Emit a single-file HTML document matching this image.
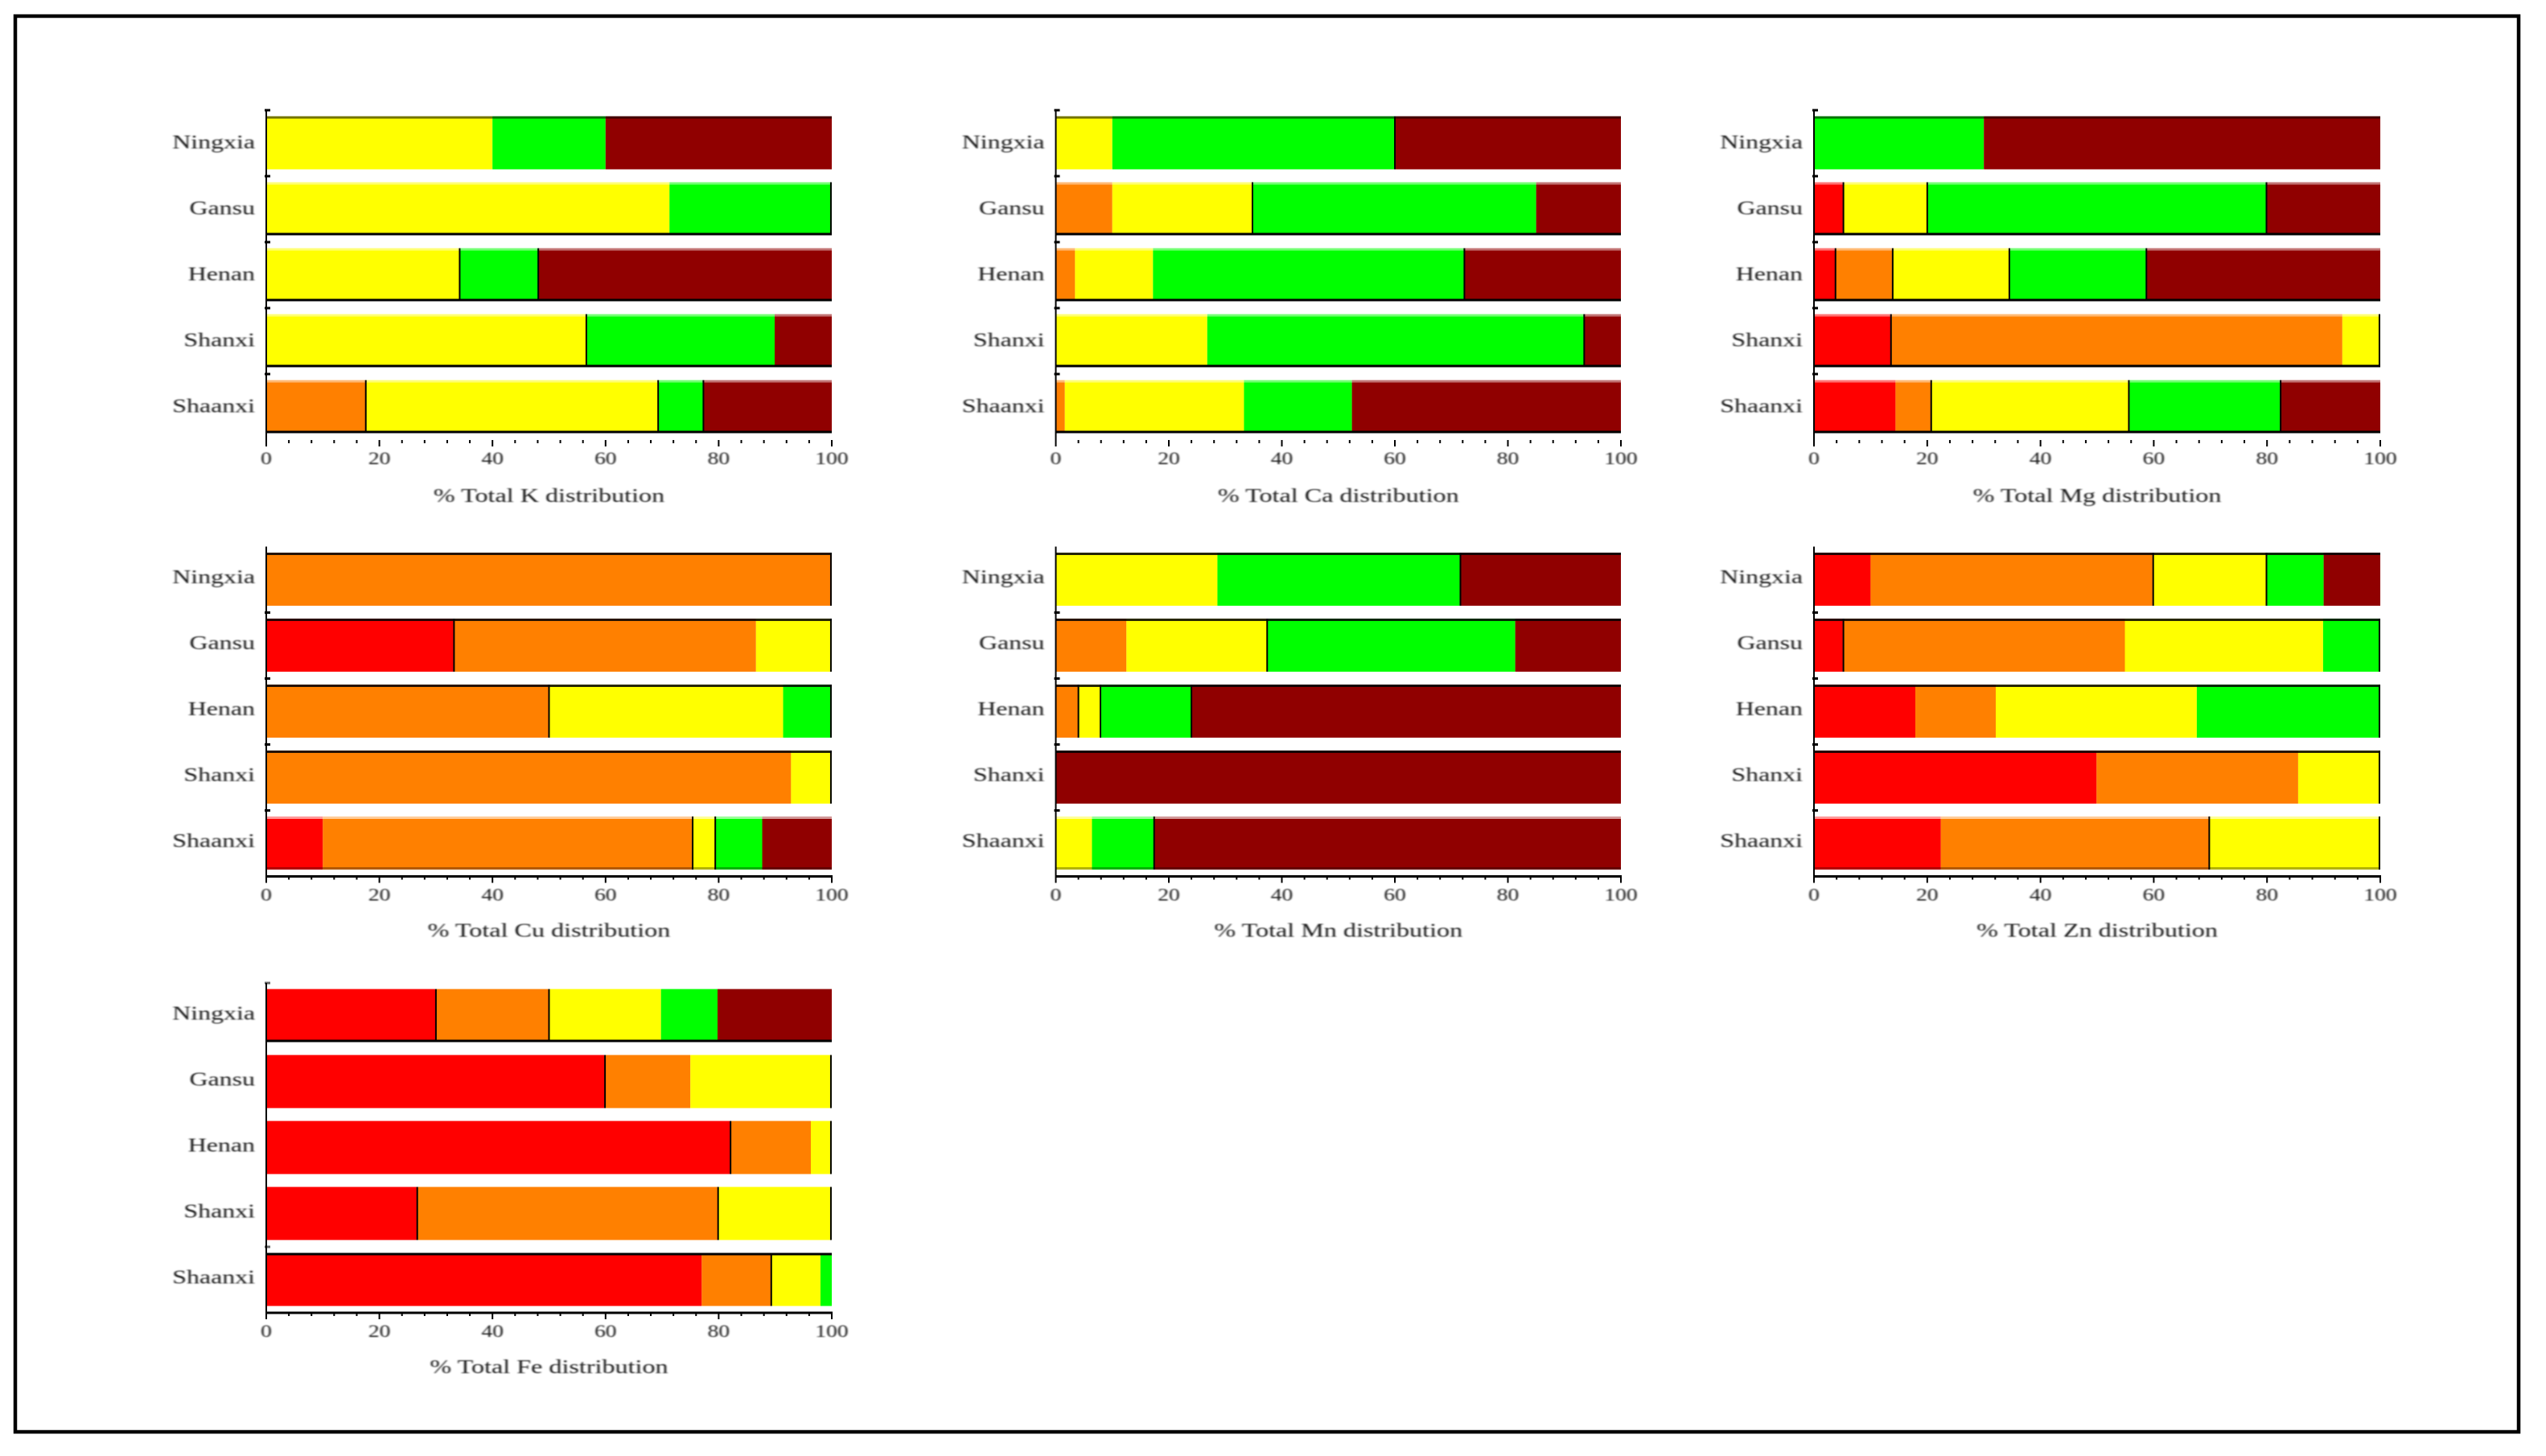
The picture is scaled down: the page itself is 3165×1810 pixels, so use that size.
<!DOCTYPE html>
<html lang="en">
<head>
<meta charset="utf-8">
<title>Total nutrient distribution by province</title>
<style>
  html, body { margin: 0; padding: 0; background: #fff; }
  body { width: 3165px; height: 1810px; overflow: hidden; }
  svg { display: block; }
  text { font-family: "Liberation Serif", serif; fill: #1a1a1a; }
</style>
</head>
<body>
<svg id="figure" xmlns="http://www.w3.org/2000/svg" width="3165" height="1810" viewBox="0 0 3165 1810">
  <defs>
    <filter id="soften" x="-5%" y="-20%" width="110%" height="140%"><feGaussianBlur stdDeviation="0.85"/></filter>
  </defs>
  <rect x="0" y="0" width="3165" height="1810" fill="#ffffff"/>
  <rect x="19" y="20" width="3112" height="1760" fill="none" stroke="#000000" stroke-width="4.5"/>
</svg>
<script>
// Categories and series
const regions = ["Ningxia", "Gansu", "Henan", "Shanxi", "Shaanxi"];
const classNames = ["very-low", "low", "medium", "high", "very-high"];
const xTickLabels = [0, 20, 40, 60, 80, 100];
const xMinorTicks = [4, 8, 12, 16, 24, 28, 32, 36, 44, 48, 52, 56, 64, 68, 72, 76, 84, 88, 92, 96];

// Percent share per class (red, orange, yellow, green, brown), one row per region
const totalK = [
  [0, 0, 40, 20, 40],
  [0, 0, 71.3, 28.7, 0],
  [0, 0, 34.2, 13.9, 51.9],
  [0, 0, 56.6, 33.3, 10.1],
  [0, 17.6, 51.7, 8, 22.7]
];
const totalCa = [
  [0, 0, 10, 50, 40],
  [0, 10, 24.8, 50.2, 15],
  [0, 3.4, 13.8, 55.1, 27.7],
  [0, 0, 26.8, 66.7, 6.5],
  [0, 1.6, 31.7, 19.1, 47.6]
];
const totalMg = [
  [0, 0, 0, 30, 70],
  [5.2, 0, 14.8, 59.9, 20.1],
  [3.8, 10.1, 20.6, 24.2, 41.3],
  [13.6, 79.7, 6.7, 0, 0],
  [14.4, 6.3, 34.9, 26.8, 17.6]
];
const totalCu = [
  [0, 100, 0, 0, 0],
  [33.2, 53.4, 13.4, 0, 0],
  [0, 50, 41.4, 8.6, 0],
  [0, 92.8, 7.2, 0, 0],
  [10, 65.4, 4, 8.3, 12.3]
];
const totalMn = [
  [0, 0, 28.6, 43, 28.4],
  [0, 12.5, 24.9, 43.9, 18.7],
  [0, 4, 3.9, 16.1, 76],
  [0, 0, 0, 0, 100],
  [0, 0, 6.4, 11, 82.6]
];
const totalZn = [
  [10, 49.9, 20, 10.1, 10],
  [5.2, 49.7, 35, 10.1, 0],
  [17.9, 14.2, 35.5, 32.4, 0],
  [49.9, 35.6, 14.5, 0, 0],
  [22.4, 47.4, 30.2, 0, 0]
];
const totalFe = [
  [30, 20, 19.8, 10, 20.2],
  [59.9, 15.1, 25, 0, 0],
  [82.1, 14.2, 3.7, 0, 0],
  [26.7, 53.2, 20.1, 0, 0],
  [77, 12.3, 8.7, 2, 0]
];

// Presentation only: which class in a row has a black line on its right edge
const dividersK = [[], [3], [2, 3], [2], [1, 2, 3]];
const dividersCa = [[3], [2], [3], [3], []];
const dividersMg = [[], [0, 2, 3], [0, 1, 2, 3], [0, 2], [1, 2, 3]];
const dividersCu = [[1], [0, 2], [1, 3], [2], [1, 2]];
const dividersMn = [[3], [2], [1, 2, 3], [], [3]];
const dividersZn = [[1, 2], [0, 3], [3], [2], [1, 2]];
const dividersFe = [[0, 1], [0, 2], [0, 2], [0, 1, 2], [1]];

const classColors = ["#ff0000", "#ff8000", "#ffff00", "#00ff00", "#900000"];
const svg = document.getElementById("figure");
const NS = "http://www.w3.org/2000/svg";

// Layout
const columnLeft = [331, 1312.5, 2255];
const columnWidth = [703, 702.5, 704];
const rowOffset = [0, 542.5, 1085];
const textNudge = [0, -2, -2];
const bandStep = 82;
const bandHeight = 66;
const axisTop = 137;
const firstBandTop = 144.5;
const axisBottom = 547;
const axisLineOpacity = [0, 1, 1];
const yTickOpacity = [[1, 1, 1, 1, 1], [0, 1, 1, 1, 1], [0.6, 0, 0, 0, 0.6]];

function xScale(col, value) {
  return columnLeft[col] + value / 100 * columnWidth[col];
}
function bandTop(row, index) {
  return firstBandTop + rowOffset[row] + index * bandStep;
}

function make(tag, attrs, parent) {
  const node = document.createElementNS(NS, tag);
  for (const key in attrs) node.setAttribute(key, attrs[key]);
  parent.appendChild(node);
  return node;
}

function drawEdge(group, row, col, index) {
  const top = bandTop(row, index);
  const left = xScale(col, 0);
  const width = columnWidth[col];
  let edges = [];
  if (row === 0) {
    edges = index === 0
      ? [{ y: top, fill: "#000000", o: 0.55 }]
      : [{ y: top, fill: "#ffffff", o: 0.45 }, { y: top + bandHeight - 3, fill: "#000000", o: 1 }];
  } else if (row === 1) {
    edges = index < 4
      ? [{ y: top, fill: "#000000", o: 0.85 }]
      : [{ y: top, fill: "#ffffff", o: 0.6 }, { y: top + bandHeight - 3, fill: "#000000", o: 0.3 }];
  } else {
    if (index === 0) edges = [{ y: top + bandHeight - 3, fill: "#000000", o: 1 }];
    if (index === 4) edges = [{ y: top, fill: "#000000", o: 1 }];
  }
  edges.forEach(function (edge) {
    const line = make("rect", { x: left, y: edge.y, width: width, height: 3, fill: edge.fill, opacity: edge.o }, group);
    
    
  });
}

function drawPanel(title, shares, dividers, col, row) {
  const slug = title.split(" ")[2].toLowerCase();
  const offset = rowOffset[row];
  const nudge = textNudge[row];
  const x0 = xScale(col, 0);
  const panel = make("g", {}, svg);
  
  

  // Bars
  shares.forEach(function (rowValues, r) {
    const rowGroup = make("g", {}, panel);
    
    
    let cumulative = 0;
    const top = bandTop(row, r);
    rowValues.forEach(function (value, c) {
      if (value <= 0) return;
      const start = xScale(col, cumulative);
      const end = xScale(col, cumulative + value);
      const seg = make("rect", { x: start, y: top, width: end - start, height: bandHeight, fill: classColors[c] }, rowGroup);
      
      
      cumulative += value;
    });
    drawEdge(rowGroup, row, col, r);
    cumulative = 0;
    rowValues.forEach(function (value, c) {
      cumulative += value;
      if (value <= 0 || dividers[r].indexOf(c) < 0) return;
      const edgeX = xScale(col, Math.min(cumulative, 99.85));
      const divider = make("line", { x1: edgeX, x2: edgeX, y1: top, y2: top + bandHeight, stroke: "#000000", "stroke-width": 2 }, rowGroup);
      
      
    });
  });

  // Y axis
  const yBottom = axisBottom + offset + 8;
  const yAxis = make("line", { x1: x0, x2: x0, y1: axisTop + offset, y2: yBottom, stroke: "#000000", "stroke-width": 2 }, panel);
  
  

  regions.forEach(function (region, r) {
    const tickY = bandTop(row, r) - 7.5;
    const tick = make("line", { x1: x0 - 2, x2: x0 + 5, y1: tickY, y2: tickY, stroke: "#000000", "stroke-width": 3, opacity: yTickOpacity[row][r] }, panel);
    
    
    const labelY = bandTop(row, r) + bandHeight / 2 + 7 + nudge;
    const label = make("text", { transform: "translate(" + (x0 - 14) + " " + labelY + ") scale(1.33 1)", "font-size": 24, "text-anchor": "end", filter: "url(#soften)" }, panel);
    label.textContent = region;
    
    
  });

  // X axis
  const xAxisY = axisBottom + offset;
  const xAxis = make("line", { x1: x0, x2: xScale(col, 100) + 1, y1: xAxisY, y2: xAxisY, stroke: "#000000", "stroke-width": 3, opacity: axisLineOpacity[row] }, panel);
  
  

  xMinorTicks.forEach(function (value) {
    const tickX = xScale(col, value);
    const tick = make("line", { x1: tickX, x2: tickX, y1: xAxisY, y2: xAxisY + 4, stroke: "#000000", "stroke-width": 2 }, panel);
    
    
  });

  xTickLabels.forEach(function (value) {
    const tickX = xScale(col, value);
    const tick = make("line", { x1: tickX, x2: tickX, y1: xAxisY, y2: xAxisY + 8, stroke: "#000000", "stroke-width": 2 }, panel);
    
    
    const label = make("text", { transform: "translate(" + tickX + " " + (xAxisY + 30) + ") scale(1.25 1)", "font-size": 22, "text-anchor": "middle", filter: "url(#soften)" }, panel);
    label.textContent = String(value);
    
    
  });

  const titleX = x0 + columnWidth[col] / 2;
  const axisTitle = make("text", { transform: "translate(" + titleX + " " + (xAxisY + 77 + nudge) + ") scale(1.34 1)", "font-size": 24, "text-anchor": "middle", filter: "url(#soften)" }, panel);
  axisTitle.textContent = title;
  
  
}

drawPanel("% Total K distribution", totalK, dividersK, 0, 0);
drawPanel("% Total Ca distribution", totalCa, dividersCa, 1, 0);
drawPanel("% Total Mg distribution", totalMg, dividersMg, 2, 0);
drawPanel("% Total Cu distribution", totalCu, dividersCu, 0, 1);
drawPanel("% Total Mn distribution", totalMn, dividersMn, 1, 1);
drawPanel("% Total Zn distribution", totalZn, dividersZn, 2, 1);
drawPanel("% Total Fe distribution", totalFe, dividersFe, 0, 2);
</script>
</body>
</html>
